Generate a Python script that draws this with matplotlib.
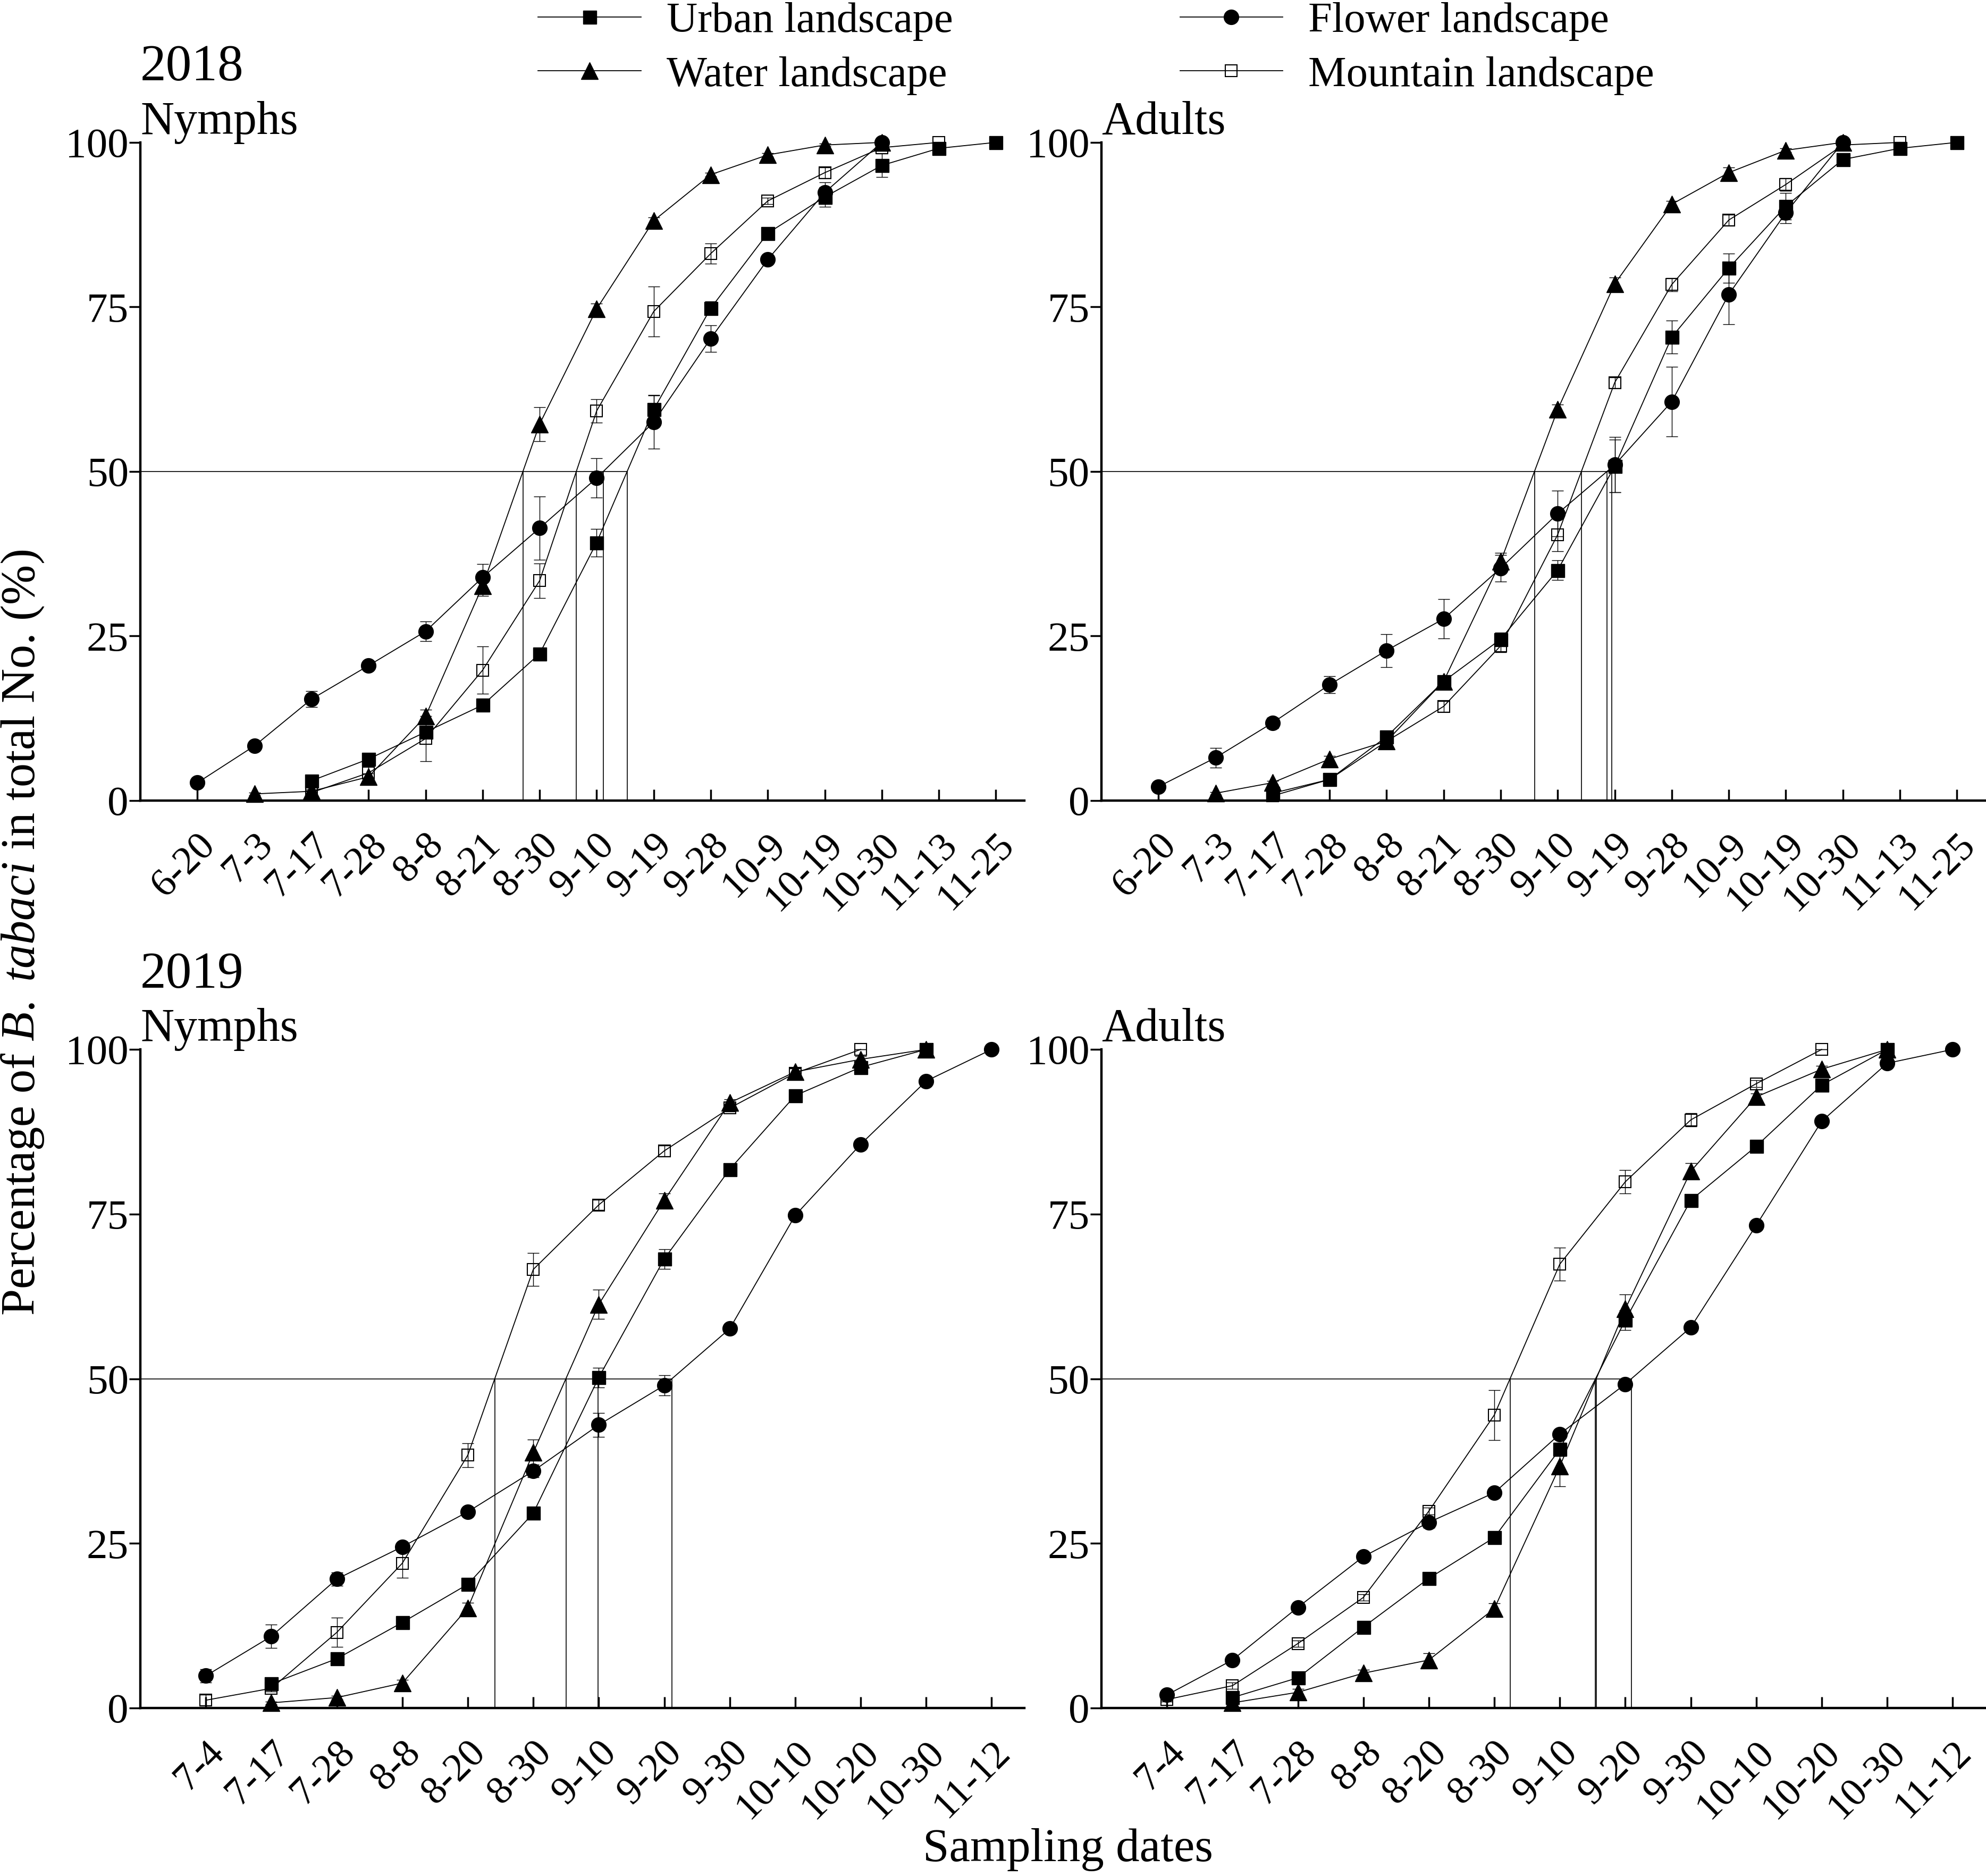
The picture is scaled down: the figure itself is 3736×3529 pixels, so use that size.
import numpy as np
import matplotlib
matplotlib.use("Agg")
import matplotlib.pyplot as plt
from matplotlib.transforms import ScaledTranslation

plt.rcParams['font.family'] = ['Liberation Serif', 'DejaVu Serif']
plt.rcParams['mathtext.fontset'] = 'custom'
plt.rcParams['mathtext.rm'] = 'Liberation Serif'
plt.rcParams['mathtext.it'] = 'Liberation Serif:italic'

nan = np.nan

# sampling dates
dates18 = ['6-20', '7-3', '7-17', '7-28', '8-8', '8-21', '8-30', '9-10',
           '9-19', '9-28', '10-9', '10-19', '10-30', '11-13', '11-25']
dates19 = ['7-4', '7-17', '7-28', '8-8', '8-20', '8-30', '9-10', '9-20',
           '9-30', '10-10', '10-20', '10-30', '11-12']

# 2018 nymphs (cumulative %)
urban_n18 = [nan, nan, 3.0, 6.3, 10.4, 14.5, 22.3, 39.2, 59.4, 74.8, 86.2, 91.7, 96.5, 99.1, 100]
urban_n18_se = [nan, nan, 0.5, 0.5, 0.8, 0.5, 0.5, 2.1, 2.2, 1.0, 0.5, 1.5, 1.8, 0.3, 0]
flower_n18 = [2.7, 8.3, 15.4, 20.5, 25.7, 33.9, 41.4, 49.0, 57.5, 70.2, 82.2, 92.4, 100, nan, nan]
flower_n18_se = [0.3, 0.5, 1.2, 0.5, 1.5, 2.0, 4.8, 3.0, 4.0, 2.0, 0.5, 1.5, 0, nan, nan]
water_n18 = [nan, 1.0, 1.4, 3.6, 12.8, 32.6, 57.2, 74.7, 88.1, 95.1, 98.1, 99.6, 100, nan, nan]
water_n18_se = [nan, 0.2, 0.3, 0.5, 1.0, 1.5, 2.6, 0.8, 0.5, 0.3, 0.3, 0.2, 0, nan, nan]
mountain_n18 = [nan, nan, 1.2, 4.2, 9.4, 19.8, 33.4, 59.2, 74.3, 83.1, 91.1, 95.4, 99.2, 100, nan]
mountain_n18_se = [nan, nan, 0.3, 1.0, 3.4, 3.6, 2.6, 1.8, 3.8, 1.5, 0.5, 0.8, 0.5, 0, nan]

# 2018 adults
urban_a18 = [nan, nan, 1.1, 3.2, 9.7, 18.1, 24.5, 35.0, 50.8, 70.4, 80.9, 90.3, 97.4, 99.1, 100]
urban_a18_se = [nan, nan, 0.3, 0.5, 0.5, 0.8, 1.0, 1.5, 4.0, 2.5, 2.2, 2.0, 0.5, 0.3, 0]
flower_a18 = [2.1, 6.5, 11.8, 17.6, 22.8, 27.6, 35.3, 43.6, 51.0, 60.6, 76.9, 89.3, 100, nan, nan]
flower_a18_se = [0.3, 1.5, 0.8, 1.3, 2.5, 3.0, 2.0, 3.5, 4.2, 5.3, 4.5, 1.6, 0, nan, nan]
water_a18 = [nan, 1.1, 2.7, 6.3, 9.0, 18.1, 36.3, 59.4, 78.5, 90.6, 95.4, 98.8, 100, nan, nan]
water_a18_se = [nan, 0.2, 0.3, 0.5, 0.5, 0.8, 1.3, 0.8, 1.0, 0.5, 0.8, 0.3, 0, nan, nan]
mountain_a18 = [nan, nan, 0.7, 3.2, 9.0, 14.3, 23.5, 40.4, 63.5, 78.4, 88.2, 93.6, 99.6, 100, nan]
mountain_a18_se = [nan, nan, 0.2, 0.5, 0.5, 0.8, 1.0, 2.5, 0.8, 1.0, 0.8, 1.0, 0.3, 0, nan]

# 2019 nymphs
urban_n19 = [nan, 3.7, 7.5, 13.0, 18.8, 29.6, 50.2, 68.2, 81.8, 93.0, 97.3, 100, nan]
urban_n19_se = [nan, 0.5, 0.5, 0.5, 0.8, 0.5, 1.5, 1.5, 0.5, 0.5, 0.5, 0, nan]
flower_n19 = [4.9, 10.9, 19.6, 24.5, 29.8, 36.0, 43.0, 49.0, 57.6, 74.8, 85.6, 95.2, 100]
flower_n19_se = [1.0, 1.8, 1.0, 0.5, 0.5, 1.0, 1.8, 1.5, 0.5, 0.5, 0.5, 0.5, 0]
water_n19 = [nan, 0.8, 1.6, 3.8, 15.2, 38.8, 61.3, 77.1, 91.9, 96.6, 98.5, 100, nan]
water_n19_se = [nan, 0.2, 0.3, 0.5, 0.8, 2.0, 2.2, 1.0, 0.5, 0.5, 0.5, 0, nan]
mountain_n19 = [1.2, 3.0, 11.5, 22.0, 38.4, 66.6, 76.4, 84.6, 91.1, 96.4, 100, nan, nan]
mountain_n19_se = [0.8, 0.5, 2.2, 2.2, 1.8, 2.5, 0.8, 0.8, 0.5, 0.8, 0, nan, nan]

# 2019 adults
urban_a19 = [nan, 1.6, 4.6, 12.3, 19.7, 25.9, 39.3, 58.9, 77.1, 85.3, 94.6, 100, nan]
urban_a19_se = [nan, 0.3, 0.8, 0.5, 0.5, 0.5, 1.0, 1.5, 0.8, 0.5, 0.5, 0, nan]
flower_a19 = [2.0, 7.3, 15.3, 23.0, 28.2, 32.7, 41.6, 49.2, 57.8, 73.3, 89.1, 97.9, 100]
flower_a19_se = [0.5, 0.5, 0.5, 0.5, 0.8, 0.5, 0.5, 0.5, 0.5, 0.5, 0.5, 0.5, 0]
water_a19 = [nan, 0.8, 2.4, 5.3, 7.3, 15.1, 36.7, 60.6, 81.5, 92.8, 97.0, 100, nan]
water_a19_se = [nan, 0.2, 0.5, 0.5, 1.0, 0.8, 3.0, 2.2, 1.2, 0.5, 0.5, 0, nan]
mountain_a19 = [1.3, 3.4, 9.8, 16.8, 29.9, 44.5, 67.4, 79.9, 89.3, 94.8, 100, nan, nan]
mountain_a19_se = [0.3, 0.5, 0.5, 0.5, 0.5, 3.8, 2.5, 1.8, 1.0, 0.5, 0, nan, nan]

labels = ['Urban landscape', 'Water landscape', 'Flower landscape', 'Mountain landscape']

styles = {
    'Urban landscape': dict(marker='s', ms=18, mfc='black', mec='black'),
    'Water landscape': dict(marker='^', ms=23, mfc='black', mec='black'),
    'Flower landscape': dict(marker='o', ms=20, mfc='black', mec='black'),
    'Mountain landscape': dict(marker='s', ms=16, mfc='none', mec='black', mew=1.5),
}

panels = [
    # (position, dates, year, stage, {label: (values, errors)})
    ([0.0707, 0.5733, 0.4451, 0.3508], dates18, '2018', 'Nymphs',
     {'Urban landscape': (urban_n18, urban_n18_se), 'Water landscape': (water_n18, water_n18_se),
      'Flower landscape': (flower_n18, flower_n18_se), 'Mountain landscape': (mountain_n18, mountain_n18_se)}),
    ([0.5546, 0.5733, 0.4451, 0.3508], dates18, None, 'Adults',
     {'Urban landscape': (urban_a18, urban_a18_se), 'Water landscape': (water_a18, water_a18_se),
      'Flower landscape': (flower_a18, flower_a18_se), 'Mountain landscape': (mountain_a18, mountain_a18_se)}),
    ([0.0707, 0.0895, 0.4451, 0.3511], dates19, '2019', 'Nymphs',
     {'Urban landscape': (urban_n19, urban_n19_se), 'Water landscape': (water_n19, water_n19_se),
      'Flower landscape': (flower_n19, flower_n19_se), 'Mountain landscape': (mountain_n19, mountain_n19_se)}),
    ([0.5546, 0.0895, 0.4451, 0.3511], dates19, None, 'Adults',
     {'Urban landscape': (urban_a19, urban_a19_se), 'Water landscape': (water_a19, water_a19_se),
      'Flower landscape': (flower_a19, flower_a19_se), 'Mountain landscape': (mountain_a19, mountain_a19_se)}),
]


def cross50(vals):
    # x where the curve first reaches 50 %
    v = np.array(vals, dtype=float)
    for i in range(len(v) - 1):
        if v[i] < 50 <= v[i + 1]:
            return i + (50 - v[i]) / (v[i + 1] - v[i])
    return None


fig = plt.figure(figsize=(37.36, 35.29), dpi=100)
legend_handles = []
shift = ScaledTranslation(0.28, 0, fig.dpi_scale_trans)

for k, (pos, dates, year, stage, series) in enumerate(panels):
    ax = fig.add_axes(pos)
    x = np.arange(len(dates))
    for lab in labels:
        vals, se = series[lab]
        vals = np.array(vals, dtype=float)
        se = np.array(se, dtype=float)
        line, = ax.plot(x, vals, color='black', lw=1.3, clip_on=False, zorder=3,
                        label=lab, **styles[lab])
        ax.errorbar(x, vals, yerr=se, fmt='none', ecolor='black', elinewidth=1.0,
                    capsize=8, capthick=1.0, clip_on=False, zorder=4)
        if k == 0:
            legend_handles.append(line)

    # 50 % reference lines
    xs = [cross50(series[lab][0]) for lab in labels]
    xs = [c for c in xs if c is not None]
    ax.plot([-1, max(xs)], [50, 50], color='black', lw=1.2, zorder=1)
    for c in xs:
        ax.plot([c, c], [0, 50], color='black', lw=1.2, zorder=1)

    ax.set_xlim(-1, len(dates) - 0.5)
    ax.set_ylim(0, 100)
    ax.set_yticks([0, 25, 50, 75, 100])
    ax.set_xticks(x)
    ax.set_xticklabels(dates, rotation=45, ha='right', va='top', rotation_mode='anchor')
    for lbl in ax.get_xticklabels():
        lbl.set_transform(lbl.get_transform() + shift)
    ax.spines['top'].set_visible(False)
    ax.spines['right'].set_visible(False)
    ax.spines['left'].set_linewidth(3.2)
    ax.spines['bottom'].set_linewidth(3.2)
    ax.tick_params(axis='x', direction='in', length=15, width=2.5, labelsize=54, pad=36)
    ax.tick_params(axis='y', direction='out', length=15, width=2.5, labelsize=57, pad=1)

    ax.text(0, 1.013, stage, transform=ax.transAxes, fontsize=63, ha='left', va='baseline')
    if year:
        ax.text(0, 1.094, year, transform=ax.transAxes, fontsize=70, ha='left', va='baseline')

fig.legend(legend_handles, labels, ncol=2, loc='upper left', bbox_to_anchor=(0.271, 0.999),
           frameon=False, fontsize=58, handlelength=2.4, handletextpad=0.6,
           columnspacing=5.3, borderpad=0, borderaxespad=0, labelspacing=0.35)

fig.text(0.0115, 0.503, r'Percentage of $B.\ tabaci$ in total No. (%)', rotation=90,
         fontsize=65, ha='center', va='center')
fig.text(0.5377, 0.014, 'Sampling dates', fontsize=64, ha='center', va='center')

fig.savefig('out.png', dpi=100)
